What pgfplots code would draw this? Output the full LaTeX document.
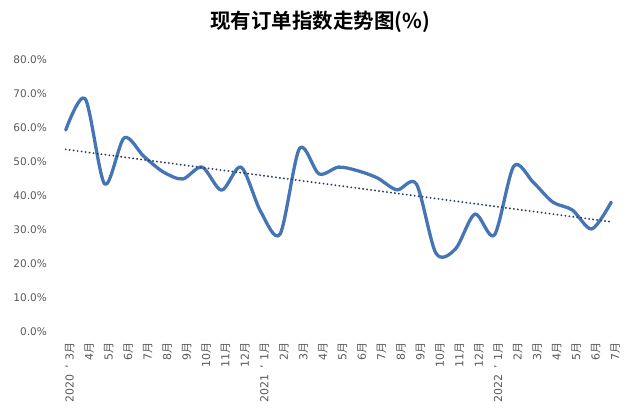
\documentclass[border=0pt]{standalone}
\usepackage{pgfplots}
\usepackage{pgfplotstable}
\pgfplotsset{compat=1.18}
\usepackage{fontspec}
\setmainfont{DejaVu Sans}
\newfontfamily\cjk[BoldFont={Noto Sans CJK SC Bold}]{Noto Sans CJK SC}
\newcommand\yue{{\cjk 月}}
\newcommand\yr[1]{#1\hspace{6pt}’\hspace{5pt}}
\definecolor{lineblue}{RGB}{70,117,182}
\definecolor{trend}{RGB}{45,62,100}
\definecolor{lab}{RGB}{89,89,89}
\pgfplotstableread{
x y
0 59.4
1 68.6
2 43.5
3 57.1
4 51.7
5 47.1
6 45.0
7 48.5
8 41.7
9 48.5
10 35.5
11 28.8
12 54.0
13 46.5
14 48.5
15 47.4
16 45.3
17 41.8
18 43.5
19 23.2
20 24.4
21 34.7
22 28.5
23 48.8
24 44.0
25 38.2
26 35.9
27 30.3
28 38.2
}\data
\pgfplotstableread{
x y
0 53.7
28 32.4
}\trenddata
\begin{document}
\begin{tikzpicture}[x=1pt,y=1pt]
\useasboundingbox (0,0) rectangle (640,420);
\node at (320,398) {\cjk\bfseries\fontsize{20.5}{24}\selectfont 现有订单指数走势图(\%)};
\begin{axis}[
  at={(56pt,88pt)}, anchor=south west,
  scale only axis, width=565pt, height=272pt,
  xmin=-0.5, xmax=28.5, ymin=0, ymax=80,
  axis line style={draw=none},
  major tick length=0pt,
  ytick={0,10,...,80},
  yticklabel={\pgfmathprintnumber[fixed,fixed zerofill,precision=1]{\tick}\%},
  /pgf/number format/assume math mode=true,
  yticklabel style={anchor=east, inner sep=0pt, xshift=-9pt, text=lab, font=\fontsize{10.5}{12}\selectfont},
  xtick={0,...,28},
  xticklabels={{\yr{2020}3\yue},4\yue,5\yue,6\yue,7\yue,8\yue,9\yue,10\yue,11\yue,12\yue,
    {\yr{2021}1\yue},2\yue,3\yue,4\yue,5\yue,6\yue,7\yue,8\yue,9\yue,10\yue,11\yue,12\yue,
    {\yr{2022}1\yue},2\yue,3\yue,4\yue,5\yue,6\yue,7\yue},
  xticklabel style={rotate=90, anchor=east, inner sep=0pt, xshift=-10pt, yshift=-4pt, text=lab, font=\fontsize{11}{13}\selectfont},
  clip=false,
]
\addplot[lineblue, line width=3.3pt, smooth, tension=0.5, line join=round, line cap=round] table[x=x,y=y] {\data};
\addplot[trend, line width=2.1pt, line cap=round, dash pattern=on 0pt off 4pt] table[x=x,y=y] {\trenddata};
\end{axis}
\end{tikzpicture}
\end{document}
